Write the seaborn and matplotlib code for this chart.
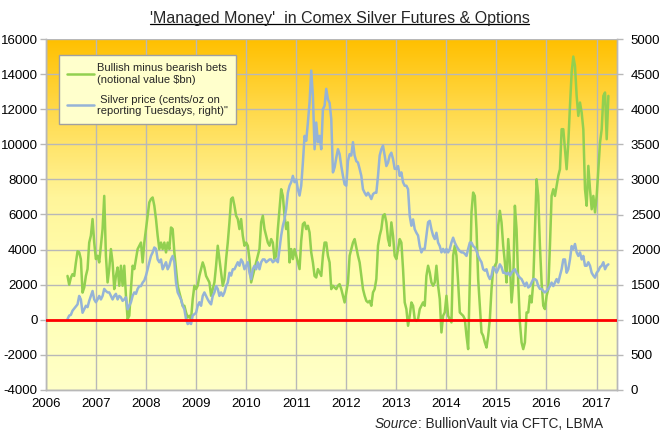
import numpy as np
import pandas as pd
import matplotlib
matplotlib.use("Agg")
import matplotlib.pyplot as plt
from matplotlib.colors import LinearSegmentedColormap
from matplotlib.lines import Line2D
import seaborn as sns

# ---------------- data ----------------
start_date = "2006-06-07"
end_date = "2017-03-28"

# Managed money net long (bullish minus bearish), left axis
net_bets = [
    2500, 2000, 2400, 2600, 2500, 3250, 3900, 3850, 3450, 1550,
    1840, 2500, 2890, 4400, 4800, 5740, 4400, 3460, 3650, 3270,
    4220, 5170, 7060, 3650, 2130, 2890, 4030, 3270, 1750, 2500,
    2980, 1940, 3080, 1940, 3080, 1370, 40, 230, 1750, 3080,
    2890, 3460, 4030, 4220, 4400, 3270, 4400, 5170, 5930, 6690,
    6880, 6970, 6500, 5740, 4790, 4030, 4400, 4030, 4400, 3840,
    4400, 4030, 5260, 5170, 3840, 2890, 1940, 1560, 1180, 800,
    800, 420, 130, 230, 40, 1180, 1940, 1750, 1940, 2500,
    2890, 3270, 2980, 2500, 2320, 2130, 1370, 1750, 2130, 3080,
    4220, 3460, 2700, 1940, 2320, 3460, 4400, 5550, 6880, 6970,
    6500, 5930, 5740, 5170, 5740, 4790, 4220, 4400, 4220, 3460,
    2130, 2500, 2890, 3270, 3650, 4030, 5550, 5930, 5170, 4790,
    4400, 4220, 4600, 4400, 3460, 3650, 5170, 6300, 7440, 7060,
    5930, 5170, 5550, 3270, 4030, 3460, 4030, 3650, 3270, 2890,
    4500, 5450, 5550, 5170, 5360, 4980, 3840, 3270, 2500, 2410,
    2890, 2700, 2500, 3650, 4400, 4400, 3650, 3270, 1750, 1940,
    1840, 1750, 1940, 2030, 1750, 1370, 990, 1560, 2130, 3650,
    4030, 4400, 4600, 4120,
    3650, 3270, 2500, 1750, 1370, 1080, 990, 1080, 800, 1560,
    1750, 2320, 4220, 4790, 5170, 5930, 6020, 5550, 4600, 4220,
    5550, 4790, 3650, 3460, 4030, 4600, 4400, 2890, 990, 610,
    -340, 230, 990, 800, 40, -60, 40, 610, 800, 990,
    800, 2500, 3080, 2700, 2130, 1940, 2130, 3080, 1940, 1180,
    -720, 230, 420, 1370, 230, 40, -150, 3650, 4220, 3650,
    2130, 420, 320, 230, 40, -910, -1670, 2320, 6120, 7250,
    7060, 5170, 2320, 800, -720, -910, -1290, -1580, -910, 40,
    1750, 2890, 3080, 3270, 5360, 6210, 5550, 4220, 3270, 2130,
    4600, 3270, 990, 2130, 6500, 5170, 2130, -150, -1290, -1670,
    -1290, 420, 420, 1370, 990, 2130, 5170, 8010, 7060, 4220,
    2130, 800, 610, 1370, 1750, 4220, 7060, 7440, 7060, 7630,
    8200, 8580, 10860, 10860, 9720, 8580, 10100, 12190, 14090, 15000,
    14470, 12760, 11620, 12380, 11810, 10860, 7440, 6500, 8770, 7440,
    6300, 7060, 6120, 7060, 8580, 10100, 10860, 12760, 12950, 10290,
    12760,
]

# Silver price, cents/oz, right axis
silver_price = [
    1010, 1060, 1070, 1130, 1160, 1190, 1220, 1340, 1290, 1100,
    1150, 1200, 1180, 1270, 1340, 1410, 1290, 1250, 1290, 1340,
    1290, 1340, 1440, 1410, 1390, 1390, 1340, 1290, 1340, 1370,
    1290, 1340, 1320, 1270, 1290, 1320, 1150, 1200, 1250, 1340,
    1390, 1370, 1440, 1480, 1480, 1530, 1560, 1630, 1720, 1820,
    1910, 1960, 2030, 2010, 1860, 1820, 1860, 1720, 1770, 1820,
    1720, 1770, 1860, 1910, 1820, 1530, 1390, 1340, 1290, 1200,
    1150, 1010, 940, 960, 940, 1060, 1080, 1100, 1200, 1250,
    1200, 1340, 1390, 1340, 1290, 1250, 1220, 1340, 1390, 1480,
    1440, 1340, 1390, 1340, 1390, 1480, 1530, 1670, 1630, 1720,
    1720, 1770, 1820, 1770, 1860, 1820, 1720, 1770, 1820, 1670,
    1580, 1720, 1770, 1720, 1820, 1720, 1820, 1860, 1860, 1820,
    1840, 1860, 1860, 1820, 1840, 1860, 1820, 2010, 2200, 2340,
    2430, 2580, 2810, 2910, 2960, 3050, 2960, 3000, 2860, 2770,
    2910, 3240, 3620, 3550, 3810, 4100, 4550, 4190, 3430, 3810,
    3530, 3620, 3430, 4000, 4050, 4290, 4140, 4090, 3860, 3100,
    3170, 3310, 3430, 3360, 3190, 3050, 2930, 2910, 3260, 3360,
    3340, 3530, 3340, 3260,
    3240, 3150, 3050, 2860, 2810, 2770, 2810, 2770, 2720, 2790,
    2810, 2810, 3050, 3340, 3430, 3480, 3340, 3190, 3240, 3340,
    3380, 3290, 3150, 3150, 3190, 3050, 3100, 2960, 2910, 2910,
    2860, 2480, 2340, 2430, 2290, 2240, 2200, 2050, 1960, 2010,
    2010, 2200, 2390, 2410, 2290, 2200, 2150, 2240, 2100, 2050,
    1960, 2010, 1960, 2010, 1960, 2010, 2100, 2170, 2100, 2050,
    2010, 1980, 1960, 1960, 1940, 1910, 2010, 2100, 2100, 2050,
    2030, 1980, 1910, 1860, 1820, 1720, 1700, 1720, 1630, 1580,
    1630, 1750, 1720, 1670, 1720, 1790, 1750, 1670, 1670, 1650,
    1670, 1630, 1670, 1700, 1720, 1670, 1630, 1600, 1580, 1530,
    1480, 1530, 1460, 1480, 1530, 1580, 1580, 1560, 1480, 1440,
    1440, 1410, 1390, 1410, 1440, 1480, 1530, 1480, 1530, 1580,
    1530, 1630, 1720, 1860, 1860, 1670, 1720, 1860, 2050, 2010,
    2080, 1960, 1910, 1960, 1860, 1910, 1770, 1770, 1820, 1770,
    1670, 1630, 1600, 1670, 1700, 1750, 1770, 1820, 1720, 1770,
    1790,
]

year_labels = [str(y) for y in range(2006, 2018)]
left_ticks = list(range(-4000, 16001, 2000))
right_ticks = list(range(0, 5001, 500))

title_text = "'Managed Money'  in Comex Silver Futures & Options"
label_bets = "Bullish minus bearish bets\n(notional value \\$bn)"
label_price = " Silver price (cents/oz on\nreporting Tuesdays, right)\""

# ---------------- build frame ----------------
dates = pd.date_range(start_date, end_date, periods=len(net_bets))
df = pd.DataFrame({"date": dates, "bets": net_bets, "price": silver_price})

# ---------------- style ----------------
sns.set_style("white")
plt.rcParams["font.family"] = ["Liberation Sans", "DejaVu Sans"]

GREEN = "#92D050"
BLUE = "#95B3D7"
GRID = "#B8B8B8"

fig = plt.figure(figsize=(6.71, 4.33), dpi=100)
fig.patch.set_facecolor("white")
ax = fig.add_axes([46 / 671, 1 - 390 / 433, 571 / 671, 351 / 433])
ax2 = ax.twinx()

# gradient background
cmap = LinearSegmentedColormap.from_list(
    "bg", [(0.0, "#FFFFC8"), (0.3, "#FFFFB0"), (0.55, "#FFF59A"), (0.8, "#FFD94A"), (1.0, "#FFC000")]
)
grad = np.linspace(0, 1, 256).reshape(-1, 1)
ax.imshow(grad, extent=[0, 1, 0, 1], transform=ax.transAxes, aspect="auto",
          cmap=cmap, origin="lower", zorder=0)

xmin = pd.Timestamp("2006-01-01")
xmax = pd.Timestamp("2017-05-30")

# grid
for y in left_ticks:
    ax.axhline(y, color=GRID, lw=1.0, zorder=1)
for yl in year_labels:
    ax.axvline(pd.Timestamp(f"{yl}-01-01"), color=GRID, lw=1.0, zorder=1)

sns.lineplot(data=df, x="date", y="bets", ax=ax, color=GREEN, lw=1.8, zorder=3)
sns.lineplot(data=df, x="date", y="price", ax=ax2, color=BLUE, lw=1.8, zorder=3)
ax2.axhline(1000, color="#FF0000", lw=2.0, zorder=4)

ax.set_xlim(xmin, xmax)
ax.set_ylim(-4000, 16000)
ax2.set_ylim(0, 5000)
ax.set_xlabel("")
ax.set_ylabel("")
ax2.set_ylabel("")

ax.set_xticks([pd.Timestamp(f"{yl}-01-01") for yl in year_labels])
ax.set_xticklabels(year_labels)
ax.set_yticks(left_ticks)
ax.set_yticklabels([str(v) for v in left_ticks])
ax2.set_yticks(right_ticks)
ax2.set_yticklabels([str(v) for v in right_ticks])

ax.tick_params(axis="x", length=0, pad=6, labelsize=9.5, colors="black")
ax.tick_params(axis="y", length=4, width=1, color=GRID, pad=2, labelsize=9.5, labelcolor="black", left=True)
ax2.tick_params(axis="y", length=4, width=1, color=GRID, pad=6, labelsize=9.5, labelcolor="black", right=True)

for a in (ax, ax2):
    for s in a.spines.values():
        s.set_color(GRID)
        s.set_linewidth(1.0)
    a.spines["top"].set_visible(False)
ax2.patch.set_visible(False)

# legend
handles = [Line2D([], [], color=GREEN, lw=1.8), Line2D([], [], color=BLUE, lw=1.8)]
leg = ax2.legend(handles, [label_bets, label_price], loc="upper left",
                 bbox_to_anchor=(0.0228, 0.954), borderaxespad=0, frameon=True, fancybox=False,
                 framealpha=1, facecolor="#FFFFCC", edgecolor="#A0A0A0",
                 fontsize=8, handlelength=2.4, handletextpad=0.25,
                 labelspacing=0.85, borderpad=0.75)
leg.get_frame().set_linewidth(1.0)
leg.set_zorder(10)

# title with underline
t = fig.text(0.506, 1 - 18 / 433, title_text, ha="center", va="center", fontsize=11.5)
fig.canvas.draw()
r = fig.canvas.get_renderer()
bb = t.get_window_extent(r).transformed(fig.transFigure.inverted())
fig.add_artist(Line2D([bb.x0, bb.x1], [bb.y0 + 0.003, bb.y0 + 0.003], color="black", lw=0.9,
                      transform=fig.transFigure))

# source note
s2 = fig.text(603 / 671, 1 - 424 / 433, ": BullionVault via CFTC, LBMA", ha="right", va="center", fontsize=9.8)
fig.canvas.draw()
bb2 = s2.get_window_extent(r).transformed(fig.transFigure.inverted())
fig.text(bb2.x0, 1 - 424 / 433, "Source", ha="right", va="center", fontsize=9.8, style="italic")

fig.savefig("out.png", dpi=100)
